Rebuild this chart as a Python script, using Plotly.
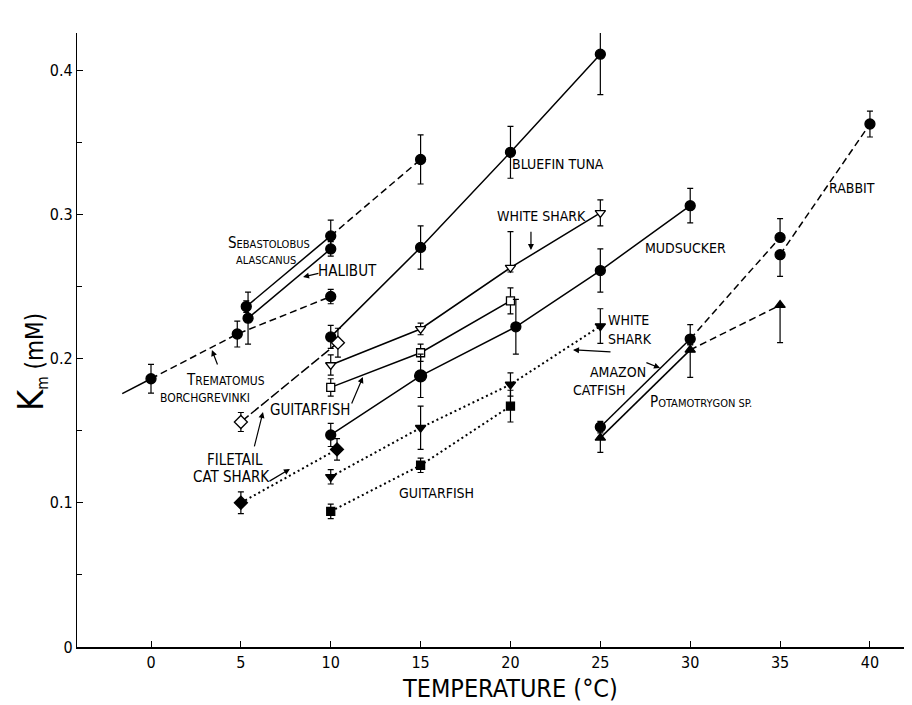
import plotly.graph_objects as go

# ---------------- data ----------------
# Trematomus borchgrevinki (filled circle, dashed)
trem_T = [0, 4.8, 10]
trem_K = [0.186, 0.217, 0.243]
trem_err = [0.010, 0.009, 0.005]
trem_ext_T = -1.6  # start of the drawn regression extension

# Sebastolobus alascanus (filled circle, solid then dashed)
seb_T = [5.3, 10, 15]
seb_K = [0.236, 0.285, 0.338]
seb_err = [0.004, 0.011, 0.017]

# Halibut (filled circle, solid)
hal_T = [5.4, 10]
hal_K = [0.228, 0.276]
hal_err = [0.018, 0.005]

# Bluefin tuna (filled circle, solid)
tuna_T = [10, 15, 20, 25]
tuna_K = [0.215, 0.277, 0.343, 0.411]
tuna_err = [0.008, 0.015, 0.018, 0.028]

# Filetail cat shark (open diamond, long dash)
fcs_o_T = [5, 10.4]
fcs_o_K = [0.156, 0.211]
fcs_o_err = [0.0066, 0.010]

# White shark (open inverted triangle, solid)
ws_o_T = [10, 15, 20, 25]
ws_o_K = [0.1955, 0.2205, 0.263, 0.301]
ws_o_errp = [0.007, 0.004, 0.025, 0.009]
ws_o_errm = [0.007, 0.004, 0.003, 0.009]

# Guitarfish (open square, solid)
gf_o_T = [10, 15, 20]
gf_o_K = [0.180, 0.204, 0.240]
gf_o_err = [0.006, 0.006, 0.009]

# Mudsucker (filled circle, solid)
mud_T = [10, 15, 20.3, 25, 30]
mud_K = [0.147, 0.188, 0.222, 0.261, 0.306]
mud_err = [0.008, 0.015, 0.019, 0.015, 0.012]

# Filetail cat shark (filled diamond, dotted)
fcs_f_T = [5, 10.35]
fcs_f_K = [0.100, 0.137]
fcs_f_err = [0.0075, 0.0075]

# White shark (filled inverted triangle, dotted)
ws_f_T = [10, 15, 20, 25]
ws_f_K = [0.118, 0.152, 0.182, 0.2225]
ws_f_err = [0.005, 0.015, 0.008, 0.012]

# Guitarfish (filled square, dotted)
gf_f_T = [10, 15, 20]
gf_f_K = [0.094, 0.126, 0.167]
gf_f_err = [0.005, 0.005, 0.011]

# Amazon catfish (filled circle, solid then dashed)
cat_T = [25, 30, 35]
cat_K = [0.1525, 0.2135, 0.284]
cat_errp = [0.004, 0.010, 0.013]
cat_errm = [0.004, 0.004, 0.0]

# Rabbit (filled circle, dashed)
rab_T = [35, 40]
rab_K = [0.272, 0.3626]
rab_errp = [0.0, 0.009]
rab_errm = [0.015, 0.009]

# Potamotrygon sp. (filled triangle, solid then dashed)
pot_T = [25, 30, 35]
pot_K = [0.145, 0.206, 0.237]
pot_errp = [0.010, 0.004, 0.0]
pot_errm = [0.010, 0.019, 0.026]

x_ticks = [0, 5, 10, 15, 20, 25, 30, 35, 40]
y_ticks = [0, 0.1, 0.2, 0.3, 0.4]
y_tick_labels = ["0", "0.1", "0.2", "0.3", "0.4"]

# ---------------- figure ----------------
FONT = "DejaVu Sans Condensed, Liberation Sans Narrow, Arial Narrow, sans-serif"
fig = go.Figure()

def seg(T, K, i0, i1, dash, width=1.5):
    fig.add_trace(go.Scatter(x=T[i0:i1 + 1], y=K[i0:i1 + 1], mode="lines",
                             line=dict(color="black", width=width, dash=dash),
                             hoverinfo="skip", showlegend=False))

def pts(T, K, ep, em, symbol, fill, size):
    fig.add_trace(go.Scatter(
        x=T, y=K, mode="markers",
        marker=dict(symbol=symbol, size=size, color=fill, opacity=1,
                    line=dict(color="black", width=1.3)),
        error_y=dict(type="data", array=ep, arrayminus=em, symmetric=False,
                     color="black", thickness=1.2, width=3),
        showlegend=False))

DASH = "7px,4px"
DOT = "2px,3px"
# Trematomus: solid extension + dashed
slope = (trem_K[1] - trem_K[0]) / (trem_T[1] - trem_T[0])
fig.add_trace(go.Scatter(x=[trem_ext_T, trem_T[0]],
                         y=[trem_K[0] + slope * (trem_ext_T - trem_T[0]), trem_K[0]],
                         mode="lines", line=dict(color="black", width=1.5),
                         hoverinfo="skip", showlegend=False))
seg(trem_T, trem_K, 0, 2, DASH)
seg(seb_T, seb_K, 0, 1, "solid")
seg(seb_T, seb_K, 1, 2, DASH)
seg(hal_T, hal_K, 0, 1, "solid")
seg(tuna_T, tuna_K, 0, 3, "solid")
seg(fcs_o_T, fcs_o_K, 0, 1, "10px,3px")
seg(ws_o_T, ws_o_K, 0, 3, "solid")
seg(gf_o_T, gf_o_K, 0, 2, "solid")
seg(mud_T, mud_K, 0, 4, "solid")
seg(fcs_f_T, fcs_f_K, 0, 1, DOT, 2)
seg(ws_f_T, ws_f_K, 0, 3, DOT, 2)
seg(gf_f_T, gf_f_K, 0, 2, DOT, 2)
seg(cat_T, cat_K, 0, 1, "solid")
seg(cat_T, cat_K, 1, 2, DASH)
seg(rab_T, rab_K, 0, 1, DASH)
seg(pot_T, pot_K, 0, 1, "solid")
seg(pot_T, pot_K, 1, 2, DASH)

pts(trem_T, trem_K, trem_err, trem_err, "circle", "black", 10)
pts(seb_T, seb_K, seb_err, seb_err, "circle", "black", 10)
pts(hal_T, hal_K, hal_err, hal_err, "circle", "black", 10)
pts(tuna_T, tuna_K, tuna_err, tuna_err, "circle", "black", 10)
pts(fcs_o_T, fcs_o_K, fcs_o_err, fcs_o_err, "diamond", "white", 10)
pts(ws_o_T, ws_o_K, ws_o_errp, ws_o_errm, "triangle-down", "white", 9)
pts(gf_o_T, gf_o_K, gf_o_err, gf_o_err, "square", "white", 8)
pts(mud_T, mud_K, mud_err, mud_err, "circle", "black", [10, 12, 10, 10, 10])
pts(fcs_f_T, fcs_f_K, fcs_f_err, fcs_f_err, "diamond", "black", 10)
pts(ws_f_T, ws_f_K, ws_f_err, ws_f_err, "triangle-down", "black", 9)
pts(gf_f_T, gf_f_K, gf_f_err, gf_f_err, "square", "black", 8)
pts(cat_T, cat_K, cat_errp, cat_errm, "circle", "black", 10)
pts(rab_T, rab_K, rab_errp, rab_errm, "circle", "black", 10)
pts(pot_T, pot_K, pot_errp, pot_errm, "triangle-up", "black", 9)

# ---------------- labels ----------------
def sc(first, rest, big=15, small=11):
    return f"<span style='font-size:{big}px'>{first}</span><span style='font-size:{small}px'>{rest}</span>"

labels = [
    (6.56, 0.280, sc("S", "EBASTOLOBUS"), 15, "center"),
    (6.40, 0.268, "ALASCANUS", 11, "center"),
    (10.96, 0.261, "HALIBUT", 15, "center"),
    (22.64, 0.335, "BLUEFIN TUNA", 14, "center"),
    (21.70, 0.299, "WHITE SHARK", 14, "center"),
    (29.76, 0.2766, "MUDSUCKER", 14, "center"),
    (39.0, 0.318, "RABBIT", 14, "center"),
    (25.31, 0.2267, "WHITE", 14, "left"),
    (25.31, 0.2135, "SHARK", 14, "left"),
    (25.98, 0.1906, "AMAZON", 14, "center"),
    (24.92, 0.178, "CATFISH", 14, "center"),
    (27.65, 0.1698, sc("P", "OTAMOTRYGON SP."), 15, "left"),
    (4.12, 0.185, sc("T", "REMATOMUS", 15, 12), 15, "center"),
    (3.0, 0.1726, "BORCHGREVINKI", 12, "center"),
    (8.85, 0.1643, "GUITARFISH", 15, "center"),
    (4.67, 0.1296, "FILETAIL", 15, "center"),
    (4.5, 0.1179, "CAT SHARK", 15, "center"),
    (15.91, 0.1068, "GUITARFISH", 14, "center"),
]
for x, y, t, s, anc in labels:
    fig.add_annotation(x=x, y=y, text=t, showarrow=False, xanchor=anc,
                       font=dict(family=FONT, size=s, color="black"))

arrows = [  # head (x, y), tail (ax, ay)
    (8.46, 0.2565, 9.40, 0.2593),
    (21.14, 0.2752, 21.14, 0.289),
    (23.48, 0.206, 25.65, 0.2045),
    (28.32, 0.1934, 27.48, 0.1976),
    (3.39, 0.2059, 3.73, 0.1948),
    (11.79, 0.1872, 11.13, 0.1678),
    (6.23, 0.1629, 5.73, 0.138),
    (7.73, 0.1234, 6.51, 0.1144),
]
for x, y, ax, ay in arrows:
    fig.add_annotation(x=x, y=y, ax=ax, ay=ay, axref="x", ayref="y", text="",
                       showarrow=True, arrowhead=2, arrowsize=1, arrowwidth=1.2,
                       arrowcolor="black")

# page has an 8px body margin: figure 904x697 placed at (8, 8)
L, T_, PW, PH = 69, 25, 835, 614
fig.add_annotation(xref="paper", yref="paper", x=(510 - 77) / PW, y=-(688 - 647) / PH,
                   text="TEMPERATURE (°C)", showarrow=False, yanchor="middle",
                   font=dict(family=FONT, size=25, color="black"))
fig.add_annotation(xref="paper", yref="paper", x=-(77 - 31) / PW, y=(647 - 362) / PH,
                   text="<span style='font-size:36px'>K</span><span style='font-size:22px'><sub>m</sub></span> (mM)",
                   textangle=-90, showarrow=False, xanchor="center", yanchor="middle",
                   font=dict(family=FONT, size=24, color="black"))

fig.update_layout(
    width=904, height=697,
    margin=dict(l=L, r=0, t=T_, b=58, autoexpand=False),
    paper_bgcolor="white", plot_bgcolor="white",
    font=dict(family=FONT, color="black"),
    xaxis=dict(range=[-4.117, 42.34], tickvals=x_ticks, ticks="inside", ticklen=6,
               tickcolor="black", showline=True, linecolor="black", linewidth=1.5,
               showgrid=False, zeroline=False, tickfont=dict(size=16), automargin=False),
    yaxis=dict(range=[0, 0.4257], tickvals=y_ticks, ticktext=y_tick_labels,
               ticks="inside", ticklen=6, tickcolor="black",
               minor=dict(dtick=0.05, ticks="inside", ticklen=5, tickcolor="black"),
               showline=True, linecolor="black", linewidth=1.2,
               showgrid=False, zeroline=False, tickfont=dict(size=16), automargin=False),
)

fig.write_html("out.html")
